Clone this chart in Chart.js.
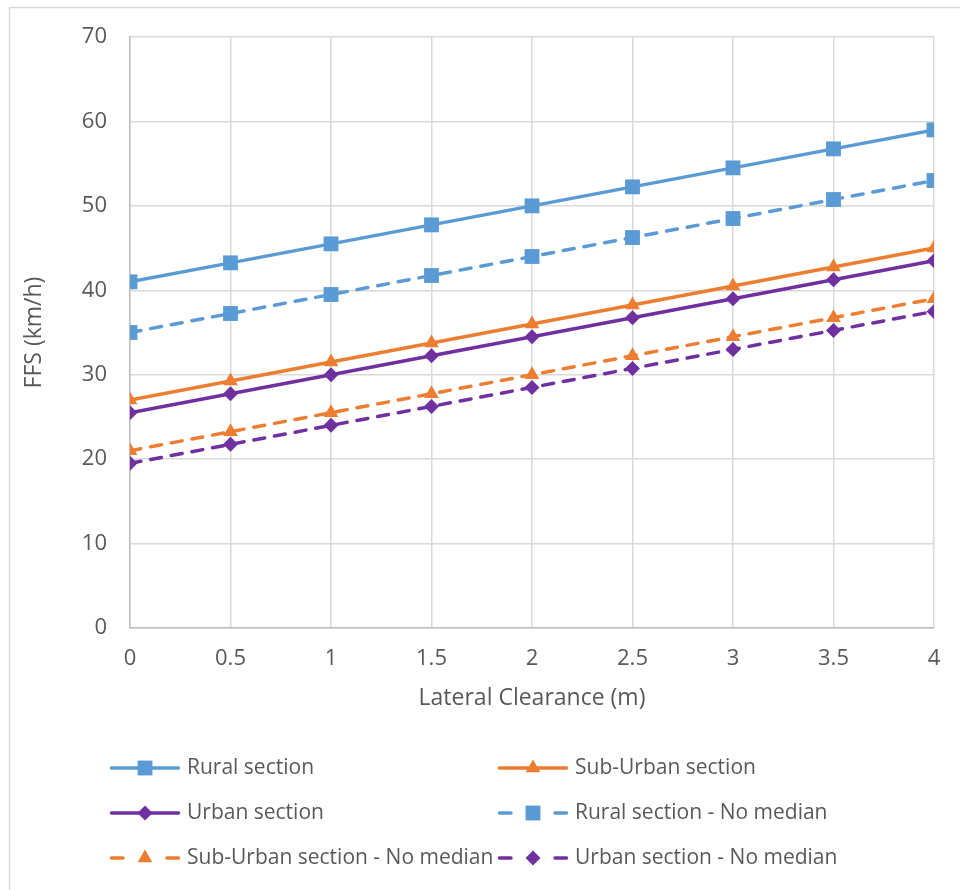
<!DOCTYPE html>
<html>
<head>
<meta charset="utf-8">
<script src="https://cdn.jsdelivr.net/npm/chart.js@4/dist/chart.umd.min.js"></script>
<style>
  html, body { margin: 0; padding: 0; background: #ffffff; overflow: hidden; }
  canvas { display: block; }
</style>
</head>
<body>
<canvas id="ffs" width="960" height="890"></canvas>
<script>
// Lateral clearance (m) on the x axis
const clearance = [0, 0.5, 1, 1.5, 2, 2.5, 3, 3.5, 4];
const xTickLabels = ['0', '0.5', '1', '1.5', '2', '2.5', '3', '3.5', '4'];

// Free-flow speed (km/h) per road section
const rural            = [41, 43.25, 45.5, 47.75, 50, 52.25, 54.5, 56.75, 59];
const subUrban         = [27, 29.25, 31.5, 33.75, 36, 38.25, 40.5, 42.75, 45];
const urban            = [25.5, 27.75, 30, 32.25, 34.5, 36.75, 39, 41.25, 43.5];
const ruralNoMedian    = [35, 37.25, 39.5, 41.75, 44, 46.25, 48.5, 50.75, 53];
const subUrbanNoMedian = [21, 23.25, 25.5, 27.75, 30, 32.25, 34.5, 36.75, 39];
const urbanNoMedian    = [19.5, 21.75, 24, 26.25, 28.5, 30.75, 33, 35.25, 37.5];

const seriesNames = [
  'Rural section', 'Sub-Urban section',
  'Urban section', 'Rural section - No median',
  'Sub-Urban section - No median', 'Urban section - No median'
];

const BLUE = '#5B9BD5', ORANGE = '#ED7D31', PURPLE = '#7030A0';
const TEXT = '#595959';
const FONT = "'Open Sans', 'Noto Sans', sans-serif";
const DASH = [11, 10];

const styles = [
  { color: BLUE,   point: 'rect',     radius: 10.5, dashed: false },
  { color: ORANGE, point: 'triangle', radius: 8.5,  dashed: false },
  { color: PURPLE, point: 'rectRot',  radius: 7.5,  dashed: false },
  { color: BLUE,   point: 'rect',     radius: 10.5, dashed: true  },
  { color: ORANGE, point: 'triangle', radius: 8.5,  dashed: true  },
  { color: PURPLE, point: 'rectRot',  radius: 7.5,  dashed: true  }
];
const values = [rural, subUrban, urban, ruralNoMedian, subUrbanNoMedian, urbanNoMedian];

const datasets = values.map((vals, i) => ({
  label: seriesNames[i],
  data: vals.map((v, j) => ({ x: clearance[j], y: v })),
  borderColor: styles[i].color,
  backgroundColor: styles[i].color,
  borderWidth: 3.5,
  borderDash: styles[i].dashed ? DASH : [],
  borderCapStyle: styles[i].dashed ? 'round' : 'butt',
  pointStyle: styles[i].point,
  pointRadius: styles[i].radius,
  pointBorderWidth: 0,
  pointBackgroundColor: styles[i].color,
  tension: 0,
  fill: false
}));

// Frame around the whole figure
const framePlugin = {
  id: 'frame',
  beforeDraw(chart) {
    const ctx = chart.ctx;
    ctx.save();
    ctx.strokeStyle = '#d9d9d9';
    ctx.lineWidth = 1.5;
    ctx.strokeRect(9.5, 7.5, 1200, 1200);
    ctx.restore();
  }
};

// Two-column legend below the axis title
const legendPlugin = {
  id: 'gridLegend',
  afterDraw(chart) {
    const ctx = chart.ctx;
    const cols = [{ x1: 110, x2: 180, tx: 187 }, { x1: 498, x2: 568, tx: 575 }];
    const rows = [768, 813, 858];
    ctx.save();
    chart.data.datasets.forEach((ds, i) => {
      const c = cols[i % 2];
      const y = rows[Math.floor(i / 2)];
      const st = styles[i];
      const mid = (c.x1 + c.x2) / 2;
      ctx.strokeStyle = st.color;
      ctx.lineWidth = 3.5;
      ctx.lineCap = 'round';
      ctx.setLineDash([]);
      ctx.beginPath();
      if (st.dashed) {
        ctx.moveTo(c.x1 + 1.5, y); ctx.lineTo(c.x1 + 13, y);
        ctx.moveTo(c.x2 - 13, y); ctx.lineTo(c.x2 - 1.5, y);
      } else {
        ctx.moveTo(c.x1 + 1.5, y); ctx.lineTo(c.x2 - 1.5, y);
      }
      ctx.stroke();
      ctx.fillStyle = st.color;
      Chart.helpers.drawPoint(ctx, {
        pointStyle: st.point, radius: st.radius, borderWidth: 0, rotation: 0
      }, mid, y);
      ctx.fillStyle = TEXT;
      ctx.font = '21px ' + FONT;
      ctx.textAlign = 'left';
      ctx.textBaseline = 'middle';
      ctx.fillText(ds.label, c.tx, y);
    });
    ctx.restore();
  }
};

new Chart(document.getElementById('ffs'), {
  type: 'line',
  data: { datasets },
  plugins: [framePlugin, legendPlugin],
  options: {
    responsive: false,
    animation: false,
    layout: { padding: { left: 0, right: 26, top: 37, bottom: 178 } },
    plugins: {
      legend: { display: false },
      tooltip: { enabled: false }
    },
    scales: {
      x: {
        type: 'linear',
        min: 0,
        max: 4,
        ticks: {
          stepSize: 0.5,
          color: TEXT,
          padding: 0,
          font: { family: FONT, size: 22 },
          callback: (v, i) => xTickLabels[i]
        },
        grid: { color: '#d9d9d9', lineWidth: 1.5, drawTicks: true, tickLength: 18, tickColor: 'rgba(0,0,0,0)' },
        border: { color: '#bfbfbf', width: 1.5 },
        title: {
          display: true,
          text: 'Lateral Clearance (m)',
          color: TEXT,
          font: { family: FONT, size: 23 },
          padding: { top: 0, bottom: 0 }
        },
        afterFit(scale) { scale.height = 84; }
      },
      y: {
        min: 0,
        max: 70,
        ticks: { stepSize: 10, color: TEXT, padding: 0, font: { family: FONT, size: 22 } },
        grid: { color: '#d9d9d9', lineWidth: 1.5, drawTicks: true, tickLength: 23, tickColor: 'rgba(0,0,0,0)' },
        border: { color: '#bfbfbf', width: 1.5 },
        title: {
          display: true,
          text: 'FFS (km/h)',
          color: TEXT,
          font: { family: FONT, size: 23 },
          padding: { top: 21, bottom: 0 }
        },
        afterFit(scale) { scale.width = 130; }
      }
    }
  }
});
</script>
</body>
</html>
